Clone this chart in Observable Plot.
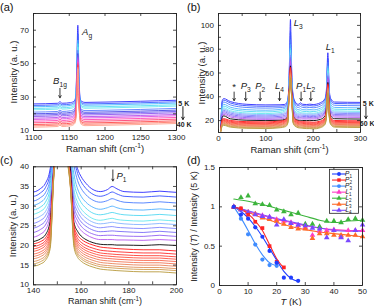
<!DOCTYPE html>
<html><head><meta charset="utf-8">
<script src="https://cdn.jsdelivr.net/npm/d3@7"></script>
<script src="https://cdn.jsdelivr.net/npm/@observablehq/plot@0.6"></script>
<style>
body{margin:0;background:#fff;}
#root{position:relative;width:374px;height:306px;font-family:"Liberation Sans",Arial,sans-serif;overflow:hidden;background:#fff;}
.panel{position:absolute;}
.plab{position:absolute;font-size:11px;color:#111;font-family:"Liberation Sans",Arial,sans-serif;}
</style></head><body><div id="root"></div>
<script>
// ---------------- Panel (a): A_g region, 5 K -> 40 K ----------------
const xA = [1100, 1134, 1137, 1140, 1152, 1157, 1159, 1160.5, 1162, 1163.5, 1165, 1167, 1172, 1200, 1250, 1300];
const colorsA = ["#2b2bff","#3a5cff","#46b4ff","#52dcf0","#6ae6ee","#5a7cff","#4545e6","#6a5cf0","#8c55ee","#b44fee","#dc4ee0","#ff46b4","#ff3c6e","#ff4646","#ff7a6a","#ffa08c"];
const spectraA = [
  [25.9,26.3,27.2,26.3,26.7,27.7,29.9,47.1,73,44.7,29.9,27.5,26.8,27.0,27.5,28.1],
  [25.0,25.4,26.2,25.4,25.8,26.8,29.0,44.4,68,42.2,29.0,26.6,25.9,26.1,26.6,27.2],
  [24.2,24.6,25.4,24.6,25.0,26.0,28.2,42.1,64,40.1,28.2,25.8,25.1,25.3,25.8,26.4],
  [23.2,23.6,24.4,23.6,24.0,25.0,27.2,40.7,62,38.7,27.2,24.8,24.1,24.3,24.8,25.4],
  [22.4,22.8,23.6,22.8,23.2,24.2,26.4,39.3,60,37.4,26.4,24.0,23.3,23.5,24.0,24.6],
  [21.0,21.4,22.2,21.4,21.8,22.8,25.0,37.7,58,35.8,25.0,22.6,21.9,22.1,22.6,23.2],
  [20.0,20.4,21.2,20.4,20.8,21.8,24.0,36.2,56,34.4,24.0,21.6,20.9,21.1,21.6,22.2],
  [19.2,19.6,20.4,19.6,20.0,21.0,23.2,35.3,55,33.5,23.2,20.8,20.1,20.3,20.8,21.4],
  [18.4,18.8,19.6,18.8,19.2,20.2,22.4,34.4,54,32.6,22.4,20.0,19.3,19.5,20.0,20.6],
  [17.4,17.8,18.6,17.8,18.2,19.2,21.4,33.4,53,31.6,21.4,19.0,18.3,18.5,19.0,19.6],
  [16.6,17.0,17.8,17.0,17.4,18.4,20.6,32.5,52,30.8,20.6,18.2,17.5,17.7,18.2,18.8],
  [15.6,16.0,16.8,16.0,16.4,17.4,19.6,31.5,51,29.8,19.6,17.2,16.5,16.7,17.2,17.8],
  [14.6,15.0,15.8,15.0,15.4,16.4,18.6,30.5,50,28.8,18.6,16.2,15.5,15.7,16.2,16.8],
  [13.6,14.0,14.8,14.0,14.4,15.4,17.6,29.5,49,27.8,17.6,15.2,14.5,14.7,15.2,15.8],
  [12.8,13.2,14.0,13.2,13.6,14.6,16.8,28.6,48,26.9,16.8,14.4,13.7,13.9,14.4,15.0],
  [12.0,12.4,13.2,12.4,12.8,13.8,16.0,27.8,47,26.0,16.0,13.6,12.9,13.1,13.6,14.2]
];
const ticksAX = [1100, 1150, 1200, 1250, 1300];
const ticksAY = [10, 20, 30, 40, 50, 60, 70, 80];
const labelsAY = [10, 30, 50, 70];

// ---------------- Panels (b) and (c): low-frequency spectra, 5 K -> 60 K ----------------
const xBC = [5,8,11,25,60,100,130,140,143,145,147,148.5,150,152,154,155.5,157,158.5,160,162,165,168,171,173,175,178,186,193,200,215,225,228,231,234,237,245,300];
const colorsBC = ["#2b2bff","#3550ff","#4a7dff","#4fb0ff","#52d8f2","#66e8ee","#86b4ff","#7f86ff","#7a6cf7","#9160f2","#b657ee","#000000","#ff1414","#ff2a2a","#ff3d33","#ff5140","#f9644c","#f27454","#ea835a","#df925c","#cf9c50","#b89a3c"];
const spectraBC = [
  [17,37,38.5,36,33.7,33.2,33.3,33.6,34.5,35.8,39.5,48,70,105,72,52,43.5,39.5,37.5,35.8,34.2,33.7,34.2,35.0,34.4,33.7,33.5,33.8,33.5,35.0,38.5,46,77,46,38.5,35.6,35.3],
  [16.5,35.8,37.2,34.8,32.5,32.0,32.2,32.5,33.4,34.7,38.4,47,66,95,66,49,42.3,38.3,36.2,34.5,33.0,32.5,33.0,33.6,33.1,32.5,32.3,32.6,32.3,33.8,37.2,44,72,44,37.2,34.4,34.1],
  [16,34.3,35.6,33.2,31.0,30.5,30.9,31.3,32.2,33.4,37.0,46,62,88,62,47,40.3,36.5,34.5,32.9,31.5,31.0,31.4,31.9,31.5,31.0,30.8,31.1,30.8,32.2,35.5,42,69,42,35.5,32.9,32.5],
  [15.5,32.4,33.7,31.3,29.2,28.7,29.4,30.2,31.0,32.2,35.8,45,60,84,60,45,38.0,34.4,32.5,31.0,29.7,29.2,29.6,30.0,29.6,29.2,29.0,29.3,29.0,30.4,33.6,40,66,40,33.6,31.1,30.7],
  [15,31.0,32.2,29.8,27.8,27.3,28.1,29.0,29.8,31.0,34.5,44,58,81,58,44,36.1,32.7,30.9,29.5,28.2,27.8,28.1,28.4,28.1,27.8,27.6,27.9,27.6,28.9,32.1,38.5,64,38.5,32.1,29.6,29.2],
  [14.8,29.5,30.7,28.3,26.4,25.9,26.8,27.9,28.7,29.8,33.3,43,56,79,56,43,34.2,31.0,29.3,28.0,26.8,26.4,26.7,26.9,26.6,26.4,26.2,26.5,26.2,27.5,30.6,37,62,37,30.6,28.2,27.8],
  [14.5,28.5,29.7,27.3,25.5,25.0,25.7,26.7,27.5,28.6,32.1,42,55,77,55,42,32.8,29.8,28.2,27.0,25.9,25.5,25.7,25.9,25.7,25.5,25.3,25.6,25.3,26.5,29.6,36,60,36,29.6,27.2,26.8],
  [14.2,27.4,28.6,26.3,24.5,24.0,24.7,25.6,26.4,27.5,31.0,41,54,75,54,41,31.3,28.6,27.1,25.9,24.9,24.5,24.7,24.8,24.6,24.5,24.3,24.6,24.3,25.5,28.5,35,58,35,28.5,26.2,25.8],
  [13.9,26.3,27.5,25.2,23.5,23.0,23.6,24.4,25.2,26.3,29.9,40.5,53,73,53,40.5,30.1,27.4,26.0,24.9,23.9,23.5,23.6,23.7,23.6,23.5,23.3,23.6,23.3,24.4,27.4,34,57,34,27.4,25.1,24.8],
  [13.6,25.2,26.4,24.1,22.5,22.0,22.5,23.3,24.1,25.2,28.8,40,52,72,52,40,28.8,26.3,24.9,23.8,22.9,22.5,22.6,22.6,22.5,22.4,22.3,22.6,22.3,23.4,26.4,33,56,33,26.4,24.1,23.8],
  [13.3,24.1,25.2,23.0,21.5,21.0,21.4,22.1,22.9,24.0,27.6,39.5,51,70,51,39.5,27.5,25.1,23.8,22.8,21.9,21.5,21.5,21.5,21.4,21.4,21.3,21.5,21.3,22.4,25.3,32,55,32,25.3,23.0,22.7],
  [13.0,23.0,24.0,21.5,20.3,20.0,20.3,21.0,21.7,22.7,26.2,39.5,50,66,50,39.5,25.8,23.6,22.4,21.5,20.7,20.3,20.2,20.2,20.1,20.1,20.0,20.2,20.0,21.0,23.8,30.5,52,30.5,23.8,21.6,21.3],
  [12.5,21.1,21.6,20.1,19.1,18.9,19.7,20.4,21.0,21.9,24.9,39,48,65,47,37,25.1,22.6,21.6,20.8,20.1,19.6,19.4,19.3,19.2,19.1,18.9,18.9,18.6,19.6,22.3,28.5,51,28.5,22.3,20.1,19.8],
  [12.3,20.3,20.8,19.3,18.3,18.1,19.0,19.7,20.3,21.2,24.2,38.8,47.5,64,46.5,36.7,24.3,21.8,20.8,20.0,19.3,18.8,18.6,18.5,18.4,18.3,18.1,18.1,17.8,18.8,21.5,27.8,50,27.8,21.5,19.3,19.0],
  [12.1,19.6,20.1,18.6,17.6,17.4,18.4,19.1,19.7,20.6,23.6,38.6,47,63,46,36.4,23.6,21.1,20.1,19.3,18.6,18.1,17.9,17.8,17.7,17.6,17.4,17.4,17.1,18.1,20.8,27.2,49,27.2,20.8,18.6,18.3],
  [11.9,19.0,19.5,18.0,17.0,16.8,17.8,18.5,19.1,20.0,23.0,38.4,46.5,62,45.5,36.1,23.0,20.5,19.5,18.7,18.0,17.5,17.3,17.2,17.1,17.0,16.8,16.8,16.5,17.5,20.2,26.6,48,26.6,20.2,18.0,17.7],
  [11.7,18.4,18.9,17.4,16.4,16.2,17.1,17.8,18.4,19.3,22.3,38.2,46,61,45,35.8,22.4,19.9,18.9,18.1,17.4,16.9,16.7,16.6,16.5,16.4,16.2,16.2,15.9,16.9,19.6,26.0,47,26.0,19.6,17.4,17.1],
  [11.5,17.8,18.3,16.8,15.8,15.6,16.5,17.2,17.8,18.7,21.7,38.0,45.5,60,44.5,35.5,21.8,19.3,18.3,17.5,16.8,16.3,16.1,16.0,15.9,15.8,15.6,15.6,15.3,16.3,19.0,25.6,47,25.6,19.0,16.8,16.5],
  [11.3,17.2,17.7,16.2,15.2,15.0,15.9,16.6,17.2,18.1,21.1,37.8,45,59,44,35.2,21.2,18.7,17.7,16.9,16.2,15.7,15.5,15.4,15.3,15.2,15.0,15.0,14.7,15.7,18.4,25.0,46,25.0,18.4,16.2,15.9],
  [11.1,16.6,17.1,15.6,14.6,14.4,15.2,15.9,16.5,17.4,20.4,37.6,45,58,43.5,35.0,20.6,18.1,17.1,16.3,15.6,15.1,14.9,14.8,14.7,14.6,14.4,14.4,14.1,15.1,17.8,24.4,45,24.4,17.8,15.6,15.3],
  [10.9,16.1,16.6,15.1,14.1,13.9,14.6,15.3,15.9,16.8,19.8,37.4,45,57,43,34.8,20.1,17.6,16.6,15.8,15.1,14.6,14.4,14.3,14.2,14.1,13.9,13.9,13.6,14.6,17.3,23.8,44,23.8,17.3,15.1,14.8],
  [10.7,15.5,16.0,14.5,13.5,13.3,14.0,14.7,15.3,16.2,19.2,37.2,45,56,42.5,34.6,19.5,17.0,16.0,15.2,14.5,14.0,13.8,13.7,13.6,13.5,13.3,13.3,13.0,14.0,16.7,23.2,43,23.2,16.7,14.5,14.2]
];
const ticksBX = [0, 50, 100, 150, 200, 250, 300];
const labelsBX = [0, 100, 200, 300];
const ticksBY = [20, 30, 40, 50, 60, 70, 80, 90, 100];
const labelsBY = [20, 40, 60, 80, 100];
const arrowXB = [33, 57.5, 88, 129, 174.5, 195];
const arrowLabelsB = ["*", "{i:P}{sub:3}", "{i:P}{sub:2}", "{i:L}{sub:4}", "{i:P}{sub:1}", "{i:L}{sub:2}"];
const ticksCX = [140, 150, 160, 170, 180, 190, 200];
const labelsCX = [140, 160, 180, 200];
const ticksCY = [10, 15, 20, 25, 30, 35, 40];

// ---------------- Panel (d): normalized intensities vs T ----------------
const tempsD = [5, 7.5, 10, 12.5, 15, 17.5, 20, 22.5, 25, 27.5, 30, 32.5, 35, 37.5, 40, 42.5, 45, 47.5, 50];
const namesD = ["{i:P}{sub:1}", "{i:P}{sub:2}", "{i:P}{sub:3}", "{i:L}{sub:1}", "{i:L}{sub:2}", "{i:L}{sub:3}", "{i:L}{sub:4}"];
const colorsD = ["#1f3dff", "#ff2424", "#3f8cff", "#ff3cc8", "#3cb43c", "#ff6a28", "#7a48ff"];
const symbolsD = ["circle", "square", "circle", "triangle", "triangle", "triangle", "triangle"];
const p1Pts = [1.0, 0.90, 0.85, 0.74, 0.62, 0.44, 0.29, 0.10, 0.10, 0.06];
const p2Pts = [1.0, 0.98, 0.90, 0.81, 0.73, 0.50, 0.30, 0.23];
const p3Pts = [1.0, 0.85, 0.65, 0.52, 0.33, 0.26, 0.25];
const l1Pts = [1.0, 0.97, 0.93, 0.91, 0.89, 0.87, 0.84, 0.82, 0.80, 0.76, 0.74, 0.64, 0.69, 0.70, 0.71, 0.62, 0.70, 0.70, 0.70];
const l2Pts = [null, 1.12, 1.14, 1.04, 1.03, 1.02, 0.96, 0.94, 0.90, 0.92, 0.78, 0.78, 0.75, 0.82, 0.82, 0.80, 0.84, 0.85, 0.83];
const l3Pts = [1.0, 0.97, 0.93, 0.91, 0.86, 0.84, 0.82, 0.78, 0.74, 0.72, 0.72, 0.60, 0.66, 0.66, 0.64, 0.64, 0.64, 0.64, 0.62];
const l4Pts = [1.0, 0.96, 0.93, 0.90, 0.88, 0.87, 0.77, 0.84, 0.79, 0.77, 0.76, 0.73, 0.72, 0.61, 0.70, 0.61, 0.57, 0.70, 0.77];
const fitTP = [5, 7.5, 10, 12.5, 15, 17.5, 20, 22.5, 25, 27.5];
const p1Fit = [1.0, 0.94, 0.86, 0.75, 0.62, 0.47, 0.32, 0.18, 0.09, 0.05];
const p2Fit = [1.0, 0.97, 0.91, 0.82, 0.70, 0.52, 0.34, 0.22];
const p3Fit = [1.0, 0.86, 0.70, 0.53, 0.39, 0.29, 0.25];
const fitTL = [5, 10, 15, 20, 25, 30, 35, 40, 45, 50];
const l1Fit = [1.0, 0.94, 0.89, 0.84, 0.80, 0.76, 0.73, 0.71, 0.70, 0.70];
const l2Fit = [1.10, 1.07, 1.03, 0.98, 0.93, 0.88, 0.83, 0.80, 0.82, 0.83];
const l3Fit = [1.0, 0.93, 0.86, 0.80, 0.75, 0.71, 0.68, 0.66, 0.64, 0.62];
const l4Fit = [1.0, 0.95, 0.90, 0.85, 0.81, 0.77, 0.73, 0.70, 0.69, 0.69];
const ticksDX = [0, 10, 20, 30, 40, 50];
const ticksDY = [0, 0.5, 1, 1.5];

// ---------------- helpers ----------------
const FONT = "'Liberation Sans',Arial,Helvetica,sans-serif";
const INK = "#222";
function table(xs, rows, colors) {
  const out = [];
  rows.forEach((r, i) => r.forEach((y, j) => out.push({x: xs[j], y, k: i, c: colors[i]})));
  return out;
}
function frameMarks(W, H, m, xt, yt, xl, yl, xTitle, yTitle, tdy, ydx, ysize, tsize = 9.5, xpad = 3) {
  const fw = W - m[1] - m[3], fh = H - m[0] - m[2], L = 3;
  return [
    Plot.frame({stroke: INK, strokeWidth: 0.9}),
    Plot.ruleX(xt, {insetTop: fh - L, stroke: INK, strokeWidth: 0.8}),
    Plot.ruleX(xt, {insetBottom: fh - L, stroke: INK, strokeWidth: 0.8}),
    Plot.ruleY(yt, {insetRight: fw - L, stroke: INK, strokeWidth: 0.8}),
    Plot.ruleY(yt, {insetLeft: fw - L, stroke: INK, strokeWidth: 0.8}),
    Plot.axisX(xl, {tickSize: 0, tickPadding: xpad, fontSize: 8, tickFormat: d => String(d), label: null, fill: INK}),
    Plot.axisY(yl, {tickSize: 0, tickPadding: 4.5, fontSize: 8, tickFormat: d => String(d), label: null, fill: INK}),
    Plot.text([xTitle], {text: d => d, frameAnchor: "bottom", textAnchor: "middle", lineAnchor: "middle", dy: tdy, fontSize: tsize, fill: INK}),
    Plot.text([yTitle], {text: d => d, frameAnchor: "left", textAnchor: "middle", lineAnchor: "middle", rotate: -90, dx: ydx, fontSize: ysize, fill: INK})
  ];
}
function richText(root) {
  root.querySelectorAll("text").forEach(t => {
    const s = t.textContent;
    if (!s.includes("{")) return;
    const fs = parseFloat(getComputedStyle(t).fontSize) || 10;
    while (t.firstChild) t.removeChild(t.firstChild);
    let cur = 0;
    s.split(/(\{[a-z]+:[^}]*\})/).filter(p => p.length).forEach(p => {
      const m = p.match(/^\{([a-z]+):([^}]*)\}$/);
      const kind = m ? m[1] : "n";
      const ts = document.createElementNS("http://www.w3.org/2000/svg", "tspan");
      ts.textContent = m ? m[2] : p;
      const target = kind === "sub" ? 0.3 * fs : kind === "sup" ? -0.4 * fs : 0;
      if (target !== cur) ts.setAttribute("dy", target - cur);
      cur = target;
      if (kind === "sub" || kind === "sup") ts.setAttribute("font-size", 0.7 * fs);
      if (kind === "i") ts.setAttribute("font-style", "italic");
      t.appendChild(ts);
    });
  });
}
const STYLE = `background:transparent;overflow:visible;font-family:${FONT};font-size:9px;`;
const root = document.getElementById("root");
function place(svg, left, top) {
  const d = document.createElement("div");
  d.className = "panel"; d.style.left = left + "px"; d.style.top = top + "px";
  d.appendChild(svg); root.appendChild(d);
  richText(svg);
}

// ---------------- Panel (a) ----------------
{
  const W = 187, H = 153, m = [13, 11, 23, 33];
  const svg = Plot.plot({
    width: W, height: H, marginTop: m[0], marginRight: m[1], marginBottom: m[2], marginLeft: m[3],
    x: {domain: [1100, 1300]}, y: {domain: [10, 80]}, color: {type: "identity"}, style: STYLE,
    marks: [
      Plot.line(table(xA, spectraA, colorsA), {x: "x", y: "y", z: "k", stroke: "c", strokeWidth: 0.9, curve: "monotone-x", clip: true}),
      Plot.text(["{i:A}{sub:g}"], {text: d => d, x: [1168], y: [69], textAnchor: "start", fontSize: 9.5, fill: INK}),
      Plot.text(["{i:B}{sub:1g}"], {text: d => d, x: [1137], y: [39.5], fontSize: 9.5, fill: INK}),
      Plot.arrow([1137], {x1: d => d, x2: d => d, y1: [35.2], y2: [29.6], stroke: INK, strokeWidth: 0.9, headLength: 4}),
      Plot.text(["5 K"], {text: d => d, x: [1302.5], y: [26.3], textAnchor: "start", fontSize: 7, fontWeight: "bold", fill: INK}),
      Plot.arrow([1309], {x1: d => d, x2: d => d, y1: [24.3], y2: [16.6], stroke: INK, strokeWidth: 1, headLength: 4}),
      Plot.text(["40 K"], {text: d => d, x: [1300.5], y: [13.6], textAnchor: "start", fontSize: 7, fontWeight: "bold", fill: INK}),
      ...frameMarks(W, H, m, ticksAX, ticksAY, ticksAX, labelsAY, "Raman shift (cm{sup:-1})", "Intensity (a. u.)", 18.5, -19.7, 9.5, 9.5, 4.2)
    ]
  });
  place(svg, 0, 0);
}

// ---------------- Panel (b) ----------------
const dataBC = table(xBC, spectraBC, colorsBC);
{
  const W = 187, H = 153, m = [13, 14, 21, 31];
  const svg = Plot.plot({
    width: W, height: H, marginTop: m[0], marginRight: m[1], marginBottom: m[2], marginLeft: m[3],
    x: {domain: [0, 300]}, y: {domain: [10, 110]}, color: {type: "identity"}, style: STYLE,
    marks: [
      Plot.line(dataBC, {x: "x", y: "y", z: "k", stroke: "c", strokeWidth: 0.9, curve: "monotone-x", clip: true}),
      Plot.arrow(arrowXB, {x1: d => d, x2: d => d, y1: () => 44, y2: () => 36.8, stroke: INK, strokeWidth: 0.9, headLength: 4}),
      Plot.text(arrowLabelsB, {text: d => d, x: (d, i) => arrowXB[i], y: (d, i) => i === 0 ? 48.5 : 49, fontSize: 9.5, fill: INK}),
      Plot.text(["{i:L}{sub:3}"], {text: d => d, x: [159], y: [102], textAnchor: "start", fontSize: 9.5, fill: INK}),
      Plot.text(["{i:L}{sub:1}"], {text: d => d, x: [236], y: [82], fontSize: 9.5, fill: INK}),
      Plot.text(["5 K"], {text: d => d, x: [305], y: [34.5], textAnchor: "start", fontSize: 7, fontWeight: "bold", fill: INK}),
      Plot.arrow([311.5], {x1: d => d, x2: d => d, y1: [31.8], y2: [21.8], stroke: INK, strokeWidth: 1, headLength: 4}),
      Plot.text(["60 K"], {text: d => d, x: [298.5], y: [17.6], textAnchor: "start", fontSize: 7, fontWeight: "bold", fill: INK}),
      ...frameMarks(W, H, m, ticksBX, ticksBY, labelsBX, labelsBY, "Raman shift (cm{sup:-1})", "Intensity (a. u.)", 17, -17, 9.5)
    ]
  });
  place(svg, 187, 0);
}

// ---------------- Panel (c) ----------------
{
  const W = 187, H = 153, m = [13.3, 11, 21.7, 33];
  const svg = Plot.plot({
    width: W, height: H, marginTop: m[0], marginRight: m[1], marginBottom: m[2], marginLeft: m[3],
    x: {domain: [140, 200]}, y: {domain: [10, 40]}, color: {type: "identity"}, style: STYLE,
    marks: [
      Plot.line(dataBC, {x: "x", y: "y", z: "k", stroke: "c", strokeWidth: 0.9, curve: "monotone-x", clip: true}),
      Plot.arrow([173.3], {x1: d => d, x2: d => d, y1: [39.2], y2: [36.4], stroke: INK, strokeWidth: 0.9, headLength: 3.5}),
      Plot.text(["{i:P}{sub:1}"], {text: d => d, x: [174.8], y: [37.6], textAnchor: "start", fontSize: 9.5, fill: INK}),
      ...frameMarks(W, H, m, ticksCX, ticksCY, labelsCX, ticksCY, "Raman shift (cm{sup:-1})", "Intensity (a. u.)", 16.8, -20.3, 9.5, 9)
    ]
  });
  place(svg, 0, 153);
}

// ---------------- Panel (d) ----------------
{
  const W = 187, H = 153, m = [14, 12, 21, 32];
  const ptsArr = [p1Pts, p2Pts, p3Pts, l1Pts, l2Pts, l3Pts, l4Pts];
  const fitArr = [[fitTP, p1Fit], [fitTP, p2Fit], [fitTP, p3Fit], [fitTL, l1Fit], [fitTL, l2Fit], [fitTL, l3Fit], [fitTL, l4Fit]];
  const pts = [], fits = [];
  ptsArr.forEach((arr, s) => arr.forEach((v, i) => { if (v != null) pts.push({T: tempsD[i], v, s, c: colorsD[s], sym: symbolsD[s]}); }));
  fitArr.forEach(([ts, vs], s) => vs.forEach((v, i) => fits.push({T: ts[i], v, s, c: colorsD[s]})));
  const order = [3, 4, 5, 6, 2, 1, 0];
  const svg = Plot.plot({
    width: W, height: H, marginTop: m[0], marginRight: m[1], marginBottom: m[2], marginLeft: m[3],
    x: {domain: [0, 50]}, y: {domain: [0, 1.5]}, color: {type: "identity"},
    symbol: {type: "identity"}, style: STYLE,
    marks: [
      ...order.map(s => Plot.line(fits.filter(d => d.s === s), {x: "T", y: "v", stroke: "c", strokeWidth: 1.1, curve: "monotone-x"})),
      ...order.map(s => Plot.dot(pts.filter(d => d.s === s), {x: "T", y: "v", fill: "c", symbol: "sym", r: 2.1, stroke: "none"})),
      ...frameMarks(W, H, m, ticksDX, ticksDY, ticksDX, ticksDY, "{i:T} (K)", "Intensity ({i:T}) / Intensity (5 K)", 16.5, -25, 9)
    ]
  });
  // legend
  const g = d3.select(svg).append("g");
  g.append("rect").attr("x", 142.5).attr("y", 16.3).attr("width", 29).attr("height", 44)
    .attr("fill", "white").attr("stroke", INK).attr("stroke-width", 0.8);
  const symGen = {circle: d3.symbolCircle, square: d3.symbolSquare, triangle: d3.symbolTriangle};
  namesD.forEach((name, i) => {
    const y = 21 + i * 6.05;
    g.append("line").attr("x1", 145).attr("x2", 159).attr("y1", y).attr("y2", y).attr("stroke", colorsD[i]).attr("stroke-width", 1.1);
    g.append("path").attr("transform", `translate(152,${y})`).attr("d", d3.symbol(symGen[symbolsD[i]], 12)()).attr("fill", colorsD[i]);
    g.append("text").attr("x", 161.5).attr("y", y + 2).attr("font-size", 6.5).attr("fill", INK).text(name);
  });
  place(svg, 187, 153);
}

// panel letters
[["(a)", 0, 1], ["(b)", 187, 1], ["(c)", 0, 154], ["(d)", 187, 154]].forEach(([t, x, y]) => {
  const d = document.createElement("div");
  d.className = "plab"; d.textContent = t; d.style.left = x + "px"; d.style.top = y + "px";
  root.appendChild(d);
});
</script></body></html>
